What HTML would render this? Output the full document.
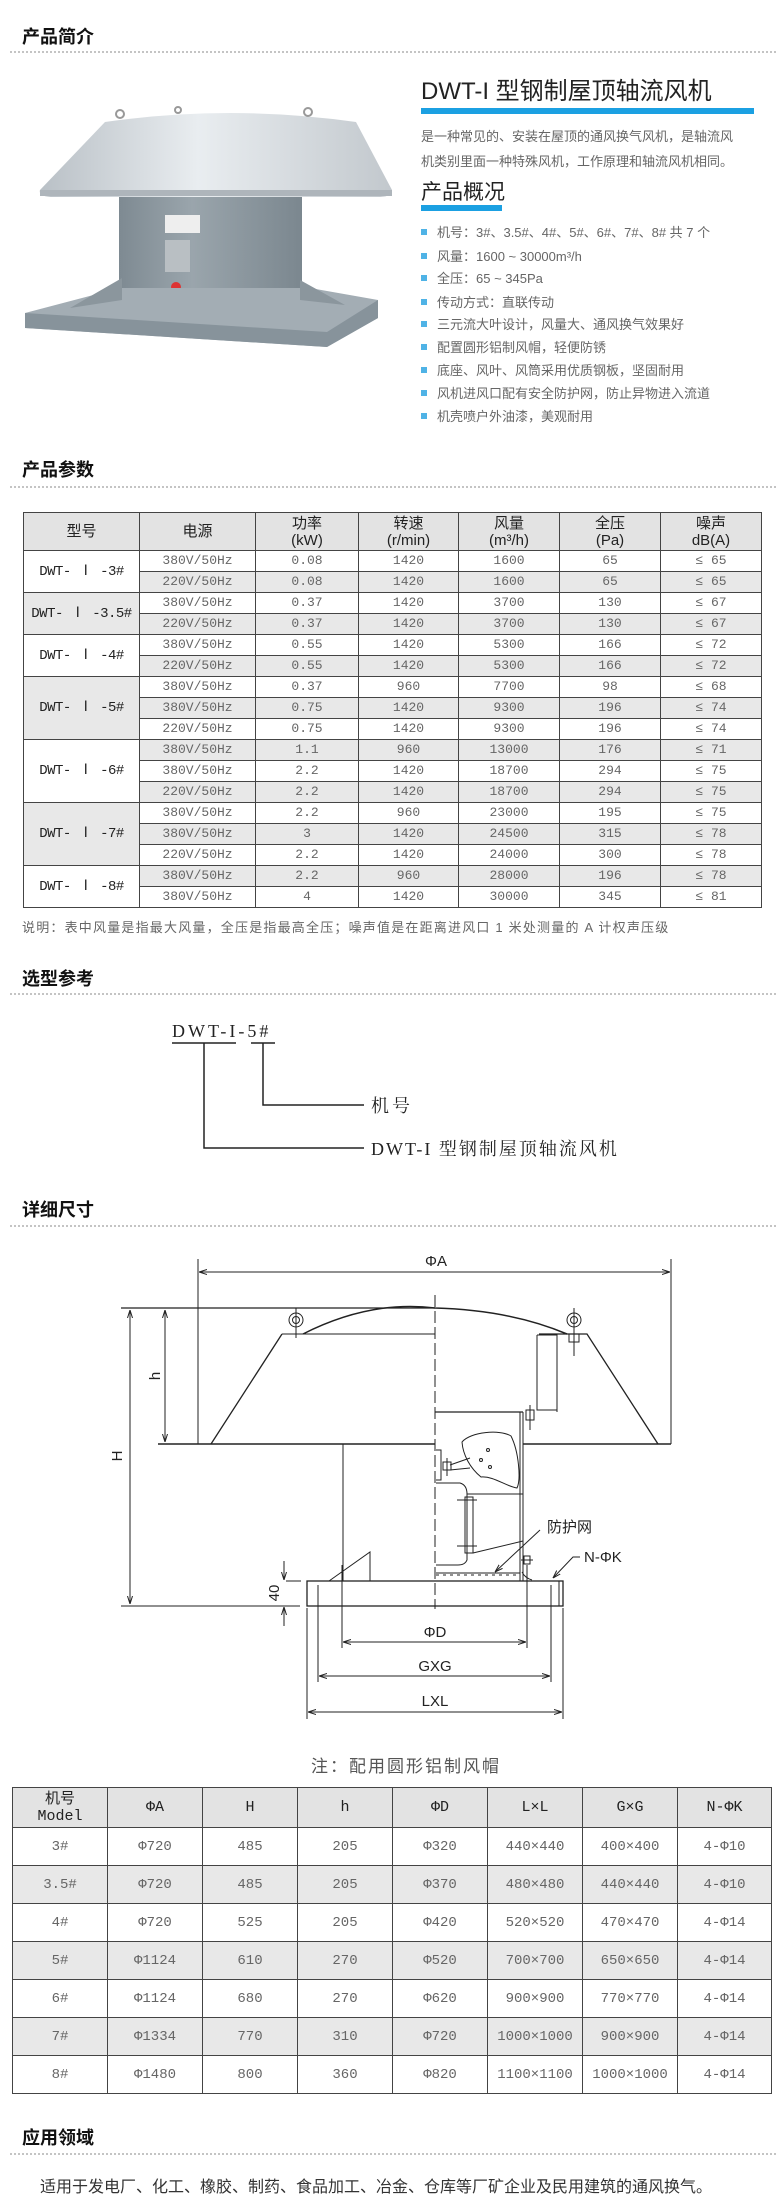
<!DOCTYPE html>
<html><head><meta charset="utf-8">
<style>
*{margin:0;padding:0;box-sizing:border-box}
body{width:776px;height:2202px;background:#fff;position:relative;overflow:hidden;font-family:"Liberation Sans","Noto Sans CJK SC",sans-serif;color:#333}
.a{position:absolute;white-space:nowrap}
.h{font-size:18px;font-weight:bold;color:#111;left:22px;line-height:22px}
.dot{position:absolute;left:10px;width:766px;border-top:2px dotted #c4c4c4;height:0}
table{position:absolute;border-collapse:collapse;table-layout:fixed}
td{border:1.5px solid #444;text-align:center;vertical-align:middle;padding:0;overflow:hidden;white-space:nowrap}
.t1 td{font-family:"Liberation Mono","Noto Sans CJK SC",monospace;font-size:13px;color:#666;height:21px;line-height:18px}
.t1 tr.hd td{height:38px;font-family:"Liberation Sans","Noto Sans CJK SC",sans-serif;font-size:15px;color:#222;line-height:17px;background:#e3e3e3}
.t1 td.m{font-size:14px;color:#222;letter-spacing:-0.5px}
.g{background:#e8e8e8}
.t2 td{font-family:"Liberation Mono","Noto Sans CJK SC",monospace;font-size:14px;color:#666;height:38px}
.t2 tr.hd td{height:40px;background:#e3e3e3;color:#222;font-size:15px;line-height:17px}
.bl{font-size:13px;color:#666;left:421px}
.bl:before{content:"";display:inline-block;width:6px;height:6px;background:#4fb3e6;margin-right:10px;vertical-align:middle;position:relative;top:-2px}
</style></head><body>

<div class="a h" style="top:26px">产品简介</div>
<div class="dot" style="top:51px"></div>

<svg class="a" style="left:0;top:95px" width="410" height="265" viewBox="0 95 410 265">
<defs>
<linearGradient id="cap" x1="0" x2="1" y1="0" y2="0"><stop offset="0" stop-color="#b9c0c6"/><stop offset=".45" stop-color="#e9edf0"/><stop offset="1" stop-color="#c2c8cd"/></linearGradient>
<linearGradient id="bod" x1="0" x2="1"><stop offset="0" stop-color="#7e8a92"/><stop offset=".4" stop-color="#9aa5ac"/><stop offset="1" stop-color="#7b878f"/></linearGradient>
</defs>
<path d="M105,122 Q230,104 356,122 L392,190 Q392,197 378,197 L54,197 Q38,197 40,190 Z" fill="url(#cap)"/>
<path d="M40,190 L392,190 L392,196 L40,196 Z" fill="#aeb5bb"/>
<circle cx="120" cy="114" r="4" fill="none" stroke="#999" stroke-width="2"/>
<circle cx="178" cy="110" r="3" fill="none" stroke="#999" stroke-width="2"/>
<circle cx="308" cy="112" r="4" fill="none" stroke="#999" stroke-width="2"/>
<rect x="119" y="197" width="183" height="100" fill="url(#bod)"/>
<rect x="165" y="215" width="35" height="18" fill="#eee"/>
<rect x="165" y="240" width="25" height="32" fill="#b9bfc3"/>
<circle cx="176" cy="287" r="5" fill="#d33"/>
<path d="M25,313 L120,288 L310,288 L378,300 L378,318 L327,347 L25,328 Z" fill="#a3adb4"/>
<path d="M25,313 L327,332 L378,300 L378,318 L327,347 L25,328 Z" fill="#87939b"/>
<path d="M70,308 L122,278 L122,300 Z" fill="#8b969d"/>
<path d="M300,300 L300,280 L345,305 Z" fill="#8b969d"/>
</svg>

<div class="a" style="left:421px;top:77px;font-size:24px;color:#222;line-height:30px">DWT-I 型钢制屋顶轴流风机</div>
<div class="a" style="left:421px;top:108px;width:333px;height:6px;background:#1ba0e2"></div>
<div class="a" style="left:421px;top:128px;font-size:13px;color:#666;line-height:18px">是一种常见的、安装在屋顶的通风换气风机，是轴流风</div>
<div class="a" style="left:421px;top:153px;font-size:13px;color:#666;line-height:18px">机类别里面一种特殊风机，工作原理和轴流风机相同。</div>
<div class="a" style="left:421px;top:179px;font-size:21px;color:#222;line-height:28px">产品概况</div>
<div class="a" style="left:421px;top:205px;width:81px;height:6px;background:#1ba0e2"></div>
<div class="a bl" style="top:222px">机号：3#、3.5#、4#、5#、6#、7#、8# 共 7 个</div>
<div class="a bl" style="top:246px">风量：1600 ~ 30000m³/h</div>
<div class="a bl" style="top:268px">全压：65 ~ 345Pa</div>
<div class="a bl" style="top:292px">传动方式：直联传动</div>
<div class="a bl" style="top:314px">三元流大叶设计，风量大、通风换气效果好</div>
<div class="a bl" style="top:337px">配置圆形铝制风帽，轻便防锈</div>
<div class="a bl" style="top:360px">底座、风叶、风筒采用优质钢板，坚固耐用</div>
<div class="a bl" style="top:383px">风机进风口配有安全防护网，防止异物进入流道</div>
<div class="a bl" style="top:406px">机壳喷户外油漆，美观耐用</div>

<div class="a h" style="top:459px">产品参数</div>
<div class="dot" style="top:486px"></div>

<table class="t1" style="left:23px;top:512px;width:738px">
<colgroup><col style="width:116px"><col style="width:116px"><col style="width:103px"><col style="width:100px"><col style="width:101px"><col style="width:101px"><col style="width:101px"></colgroup>
<tr class="hd"><td>型号</td><td>电源</td><td>功率<br>(kW)</td><td>转速<br>(r/min)</td><td>风量<br>(m³/h)</td><td>全压<br>(Pa)</td><td>噪声<br>dB(A)</td></tr>
<tr><td class="m" rowspan="2">DWT- Ⅰ -3#</td><td>380V/50Hz</td><td>0.08</td><td>1420</td><td>1600</td><td>65</td><td>≤ 65</td></tr>
<tr class="g"><td>220V/50Hz</td><td>0.08</td><td>1420</td><td>1600</td><td>65</td><td>≤ 65</td></tr>
<tr><td class="m g" rowspan="2">DWT- Ⅰ -3.5#</td><td>380V/50Hz</td><td>0.37</td><td>1420</td><td>3700</td><td>130</td><td>≤ 67</td></tr>
<tr class="g"><td>220V/50Hz</td><td>0.37</td><td>1420</td><td>3700</td><td>130</td><td>≤ 67</td></tr>
<tr><td class="m" rowspan="2">DWT- Ⅰ -4#</td><td>380V/50Hz</td><td>0.55</td><td>1420</td><td>5300</td><td>166</td><td>≤ 72</td></tr>
<tr class="g"><td>220V/50Hz</td><td>0.55</td><td>1420</td><td>5300</td><td>166</td><td>≤ 72</td></tr>
<tr><td class="m g" rowspan="3">DWT- Ⅰ -5#</td><td>380V/50Hz</td><td>0.37</td><td>960</td><td>7700</td><td>98</td><td>≤ 68</td></tr>
<tr class="g"><td>380V/50Hz</td><td>0.75</td><td>1420</td><td>9300</td><td>196</td><td>≤ 74</td></tr>
<tr><td>220V/50Hz</td><td>0.75</td><td>1420</td><td>9300</td><td>196</td><td>≤ 74</td></tr>
<tr class="g"><td class="m" rowspan="3" style="background:#fff">DWT- Ⅰ -6#</td><td>380V/50Hz</td><td>1.1</td><td>960</td><td>13000</td><td>176</td><td>≤ 71</td></tr>
<tr><td>380V/50Hz</td><td>2.2</td><td>1420</td><td>18700</td><td>294</td><td>≤ 75</td></tr>
<tr class="g"><td>220V/50Hz</td><td>2.2</td><td>1420</td><td>18700</td><td>294</td><td>≤ 75</td></tr>
<tr><td class="m g" rowspan="3">DWT- Ⅰ -7#</td><td>380V/50Hz</td><td>2.2</td><td>960</td><td>23000</td><td>195</td><td>≤ 75</td></tr>
<tr class="g"><td>380V/50Hz</td><td>3</td><td>1420</td><td>24500</td><td>315</td><td>≤ 78</td></tr>
<tr><td>220V/50Hz</td><td>2.2</td><td>1420</td><td>24000</td><td>300</td><td>≤ 78</td></tr>
<tr class="g"><td class="m" rowspan="2" style="background:#fff">DWT- Ⅰ -8#</td><td>380V/50Hz</td><td>2.2</td><td>960</td><td>28000</td><td>196</td><td>≤ 78</td></tr>
<tr><td>380V/50Hz</td><td>4</td><td>1420</td><td>30000</td><td>345</td><td>≤ 81</td></tr>
</table>
<div class="a" style="left:22px;top:917px;font-size:13px;color:#666;letter-spacing:1.2px">说明：表中风量是指最大风量，全压是指最高全压；噪声值是在距离进风口 1 米处测量的 A 计权声压级</div>

<div class="a h" style="top:968px">选型参考</div>
<div class="dot" style="top:993px"></div>
<svg class="a" style="left:0;top:1000px" width="776" height="170" viewBox="0 1000 776 170">
<text x="172" y="1037" font-family="Liberation Serif,serif" font-size="18" fill="#222" letter-spacing="3">DWT-I-5#</text>
<g stroke="#222" stroke-width="1.5" fill="none">
<path d="M172,1043 H236 M251,1043 H275"/>
<path d="M263,1043 V1105 H364"/>
<path d="M204,1043 V1148 H364"/>
</g>
<text x="371" y="1112" font-family="Liberation Serif,'Noto Serif CJK SC',serif" font-size="18" fill="#222" letter-spacing="3">机号</text>
<text x="371" y="1155" font-family="Liberation Serif,'Noto Serif CJK SC',serif" font-size="18" fill="#222" letter-spacing="2">DWT-I 型钢制屋顶轴流风机</text>
</svg>

<div class="a h" style="top:1199px">详细尺寸</div>
<div class="dot" style="top:1225px"></div>

<svg class="a" style="left:0;top:1240px" width="776" height="500" viewBox="0 1240 776 500" font-family="Liberation Sans,'Noto Sans CJK SC',sans-serif">
<defs><marker id="ar" markerWidth="8" markerHeight="6" refX="8" refY="3" orient="auto-start-reverse"><path d="M0,0.5 L8,3 L0,5.5" fill="none" stroke="#222" stroke-width="1"/></marker></defs>
<g stroke="#222" stroke-width="1" fill="none">
<path d="M198,1259 V1444 M671,1259 V1444"/>
<path d="M199,1272 H670" marker-start="url(#ar)" marker-end="url(#ar)"/>
<path d="M121,1308 H435" stroke-width="1.3"/>
<path d="M130,1310 V1604" marker-start="url(#ar)" marker-end="url(#ar)"/>
<path d="M165,1310 V1442" marker-start="url(#ar)" marker-end="url(#ar)"/>
<path d="M282,1334 H435"/>
<path d="M303,1334 Q370,1300 435,1308 Q510,1310 567,1334" stroke-width="1.5"/>
<path d="M282,1334 L211,1444" stroke-width="1.3"/>
<path d="M539,1334 H587 L658,1444" stroke-width="1.3"/>
<path d="M158,1444 H435 M523,1444 H671" stroke-width="1.5"/>
<circle cx="296" cy="1320" r="7"/><circle cx="296" cy="1320" r="3.5"/>
<path d="M296,1308 V1338 M291,1334 H301"/>
<circle cx="574" cy="1320" r="7"/><circle cx="574" cy="1320" r="3.5"/>
<path d="M574,1308 V1356 M569,1334 v8 h10 v-8"/>
<path d="M537,1335 H557 V1412 M537,1335 V1410 H557"/>
<path d="M530,1405 V1430 M526,1410 h8 v10 h-8z"/>
<path d="M343,1444 V1581"/>
<path d="M523,1412 V1581 M520,1412 V1581"/>
<path d="M435,1412 H523" stroke-width="1.3"/>
<path d="M435,1295 V1609" stroke-dasharray="12,4"/>
<path d="M462,1442 C470,1432 500,1429 511,1436 C519,1452 521,1480 517,1488 C505,1486 494,1476 481,1477 C470,1468 463,1455 462,1442 Z"/>
<circle cx="488" cy="1450" r="1.5"/><circle cx="481" cy="1460" r="1.5"/><circle cx="490" cy="1467" r="1.5"/>
<path d="M470,1458 L450,1465 M450,1470 L470,1468"/>
<path d="M436,1450 h5 v30 h-5 M447,1458 v18 M443,1462 h8 v8 h-8z"/>
<path d="M436,1483 H460 Q467,1485 467,1494 V1560 Q465,1565 458,1565 H436"/>
<path d="M467,1494 H523"/>
<path d="M465,1497 h8 v56 h-8 z"/>
<path d="M457,1500 h20 M457,1546 h20"/>
<path d="M473,1553 L523,1541"/>
<path d="M436,1573 H520"/>
<path d="M436,1575 H520" stroke-dasharray="3,4"/>
<path d="M521,1560 h12 M524,1556 h6 v8 h-6z M522,1572 q3,6 10,8"/>
<rect x="307" y="1581" width="256" height="25" stroke-width="1.3"/>
<path d="M559,1581 V1606"/>
<path d="M329,1581 L370,1552 V1581"/>
<path d="M121,1606 H300"/>
<path d="M286,1581 H301"/>
<path d="M284,1561 V1580" marker-end="url(#ar)"/>
<path d="M284,1626 V1607" marker-end="url(#ar)"/>
<path d="M342,1565 V1648 M527,1565 V1648"/>
<path d="M343,1642 H526" marker-start="url(#ar)" marker-end="url(#ar)"/>
<path d="M318,1585 V1682 M551,1585 V1682"/>
<path d="M319,1676 H550" marker-start="url(#ar)" marker-end="url(#ar)"/>
<path d="M307,1608 V1719 M563,1608 V1719"/>
<path d="M308,1712 H562" marker-start="url(#ar)" marker-end="url(#ar)"/>
<path d="M540,1530 L495,1572" marker-end="url(#ar)"/>
<path d="M580,1557 H573 L553,1578" marker-end="url(#ar)"/>
</g>
<g fill="#222" font-size="15" text-anchor="middle">
<text x="436" y="1266">ΦA</text>
<text x="435" y="1637">ΦD</text>
<text x="435" y="1671">GXG</text>
<text x="435" y="1706">LXL</text>
<text transform="translate(160,1376) rotate(-90)">h</text>
<text transform="translate(122,1456) rotate(-90)">H</text>
<text transform="translate(279,1593) rotate(-90)">40</text>
<text x="547" y="1532" text-anchor="start">防护网</text>
<text x="584" y="1562" text-anchor="start">N-ΦK</text>
</g>
</svg>

<div class="a" style="left:311px;top:1752px;font-size:17px;color:#555;letter-spacing:2px">注：配用圆形铝制风帽</div>

<table class="t2" style="left:12px;top:1787px;width:759px">
<colgroup><col style="width:95px"><col style="width:95px"><col style="width:95px"><col style="width:95px"><col style="width:95px"><col style="width:95px"><col style="width:95px"><col style="width:94px"></colgroup>
<tr class="hd"><td>机号<br>Model</td><td>ΦA</td><td>H</td><td>h</td><td>ΦD</td><td>L×L</td><td>G×G</td><td>N-ΦK</td></tr>
<tr><td>3#</td><td>Φ720</td><td>485</td><td>205</td><td>Φ320</td><td>440×440</td><td>400×400</td><td>4-Φ10</td></tr>
<tr class="g"><td>3.5#</td><td>Φ720</td><td>485</td><td>205</td><td>Φ370</td><td>480×480</td><td>440×440</td><td>4-Φ10</td></tr>
<tr><td>4#</td><td>Φ720</td><td>525</td><td>205</td><td>Φ420</td><td>520×520</td><td>470×470</td><td>4-Φ14</td></tr>
<tr class="g"><td>5#</td><td>Φ1124</td><td>610</td><td>270</td><td>Φ520</td><td>700×700</td><td>650×650</td><td>4-Φ14</td></tr>
<tr><td>6#</td><td>Φ1124</td><td>680</td><td>270</td><td>Φ620</td><td>900×900</td><td>770×770</td><td>4-Φ14</td></tr>
<tr class="g"><td>7#</td><td>Φ1334</td><td>770</td><td>310</td><td>Φ720</td><td>1000×1000</td><td>900×900</td><td>4-Φ14</td></tr>
<tr><td>8#</td><td>Φ1480</td><td>800</td><td>360</td><td>Φ820</td><td>1100×1100</td><td>1000×1000</td><td>4-Φ14</td></tr>
</table>

<div class="a h" style="top:2127px">应用领域</div>
<div class="dot" style="top:2153px"></div>
<div class="a" style="left:40px;top:2173px;font-size:16px;color:#333">适用于发电厂、化工、橡胶、制药、食品加工、冶金、仓库等厂矿企业及民用建筑的通风换气。</div>
</body></html>
